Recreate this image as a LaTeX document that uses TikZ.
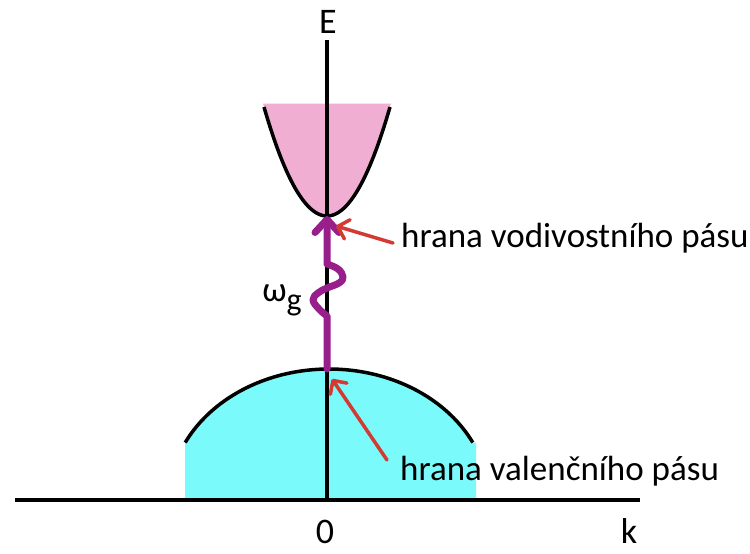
\documentclass[tikz,border=0pt]{standalone}
\usepackage{fontspec}
\setmainfont{Carlito}
\usetikzlibrary{arrows.meta}
\definecolor{condpink}{RGB}{240,174,210}
\definecolor{valcyan}{RGB}{122,250,250}
\definecolor{photon}{RGB}{152,30,140}
\definecolor{pointer}{RGB}{210,58,50}
\tikzset{
  axisline/.style={line width=3.5, black},
  bandline/.style={line width=3.5, black},
  lbl/.style={inner sep=0pt, font=\fontsize{35}{40}\selectfont},
  axlbl/.style={inner sep=0pt, font=\fontsize{36}{40}\selectfont},
  pointerarrow/.style={pointer, line width=3.5, line cap=round,
    -{Straight Barb[length=10,width=20,round]}},
  photonarrow/.style={photon, line width=7, line cap=round, line join=round,
    -{Straight Barb[length=13,width=24,round]}}
}
\begin{document}
\begin{tikzpicture}[x=1pt,y=-1pt]
\useasboundingbox (0,0) rectangle (750,554);
% coordinates
\coordinate (hl) at (15,500);
\coordinate (hr) at (640,500);
\coordinate (vt) at (327,40);
\coordinate (vb) at (327,500);
\coordinate (cbmin) at (327,216);
\coordinate (vbmax) at (327,369);
% conduction band fill
\fill[condpink] plot[domain=-64:64,samples=80] ({327+\x},{216-109*(\x/63)^2}) -- cycle;
% valence band fill
\fill[valcyan] (185,500) -- plot[domain=154:26,samples=80] ({329+160*cos(\x)},{500-131*sin(\x)}) -- (476,443) -- (476,500) -- cycle;
% axes
\draw[axisline] (hl) -- (hr);
\draw[axisline] (vt) -- (vb);
% band outlines
\draw[bandline] plot[domain=-63:63,samples=80] ({327+\x},{216-109*(\x/63)^2});
\draw[bandline] plot[domain=154:26,samples=80] ({329+160*cos(\x)},{500-131*sin(\x)});
% photon arrow
\draw[photonarrow] (vbmax) -- (327,316)
  -- plot[smooth,tension=0.7] coordinates {(327,316) (319,309) (313,300) (318,293) (327,288) (339,283) (343,277) (338,269) (327,264)}
  -- (cbmin);
\node[lbl] (wg) at (282,300) {ω\raisebox{-9pt}{\fontsize{32}{34}\selectfont g}};
% labels
\node[lbl, anchor=base west] (lc) at (401,247) {hrana vodivostního pásu};
\node[lbl, anchor=base west] (lv) at (400,480) {hrana valenčního pásu};
\coordinate (t1) at (393,243);
\coordinate (c1) at (336,226);
\coordinate (t2) at (387,460);
\coordinate (c2) at (332,379);
\draw[pointerarrow] (t1) -- (c1);
\draw[pointerarrow] (t2) -- (c2);
% axis labels
\node[axlbl, anchor=base] (E) at (328,33) {E};
\node[axlbl, anchor=base] (zero) at (325,543) {0};
\node[axlbl, anchor=base] (k) at (629,543) {k};
\end{tikzpicture}
\end{document}
